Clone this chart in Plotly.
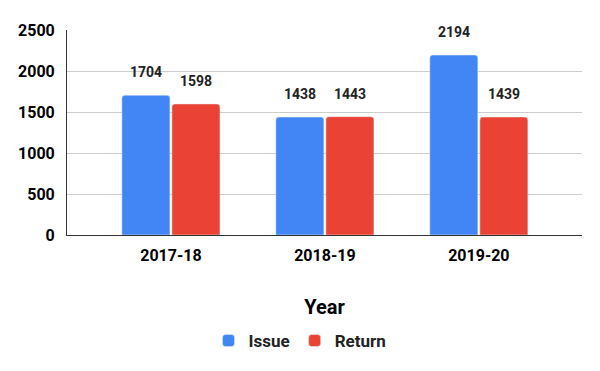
import plotly.graph_objects as go

years = ["2017-18", "2018-19", "2019-20"]
issue = [1704, 1438, 2194]
ret = [1598, 1443, 1439]
y_ticks = [0, 500, 1000, 1500, 2000, 2500]

fig = go.Figure()
fig.add_bar(name="Issue", x=years, y=issue, marker=dict(color="#4285F4", cornerradius=3), hoverinfo="skip")
fig.add_bar(name="Return", x=years, y=ret, marker=dict(color="#EA4335", cornerradius=3), hoverinfo="skip")

for vals, dx in ((issue, -25), (ret, 25)):
    for yr, v in zip(years, vals):
        fig.add_annotation(x=yr, y=v, text=str(v), showarrow=False, xshift=dx, yshift=13,
                           yanchor="bottom", font=dict(family="Roboto", size=14, color="#222", weight="bold"))

fig.update_layout(
    width=600, height=371,
    margin=dict(l=67, r=18, t=30, b=136, autoexpand=False),
    plot_bgcolor="white", paper_bgcolor="white",
    barmode="group", bargap=0.35, bargroupgap=0.04,
    font=dict(family="Roboto", color="#000"),
    showlegend=True,
    legend=dict(orientation="h", xref="container", yref="container", x=0.5, xanchor="center",
                y=1 - 341 / 371, yanchor="middle", font=dict(size=17, weight="bold", color="#222"),
                itemwidth=30, traceorder="normal"),
)
fig.update_xaxes(range=[-0.675, 2.67], showline=True, linecolor="#333", linewidth=1, automargin=False,
                 tickfont=dict(size=16, weight="bold", color="#000"), ticks="outside", ticklen=6,
                 tickcolor="rgba(0,0,0,0)",
                 title=dict(text="Year", font=dict(size=20, weight="bold", color="#000"), standoff=35))
fig.update_yaxes(range=[0, 2500], tickvals=y_ticks, showgrid=True, gridcolor="#cccccc", automargin=False,
                 showline=True, linecolor="#333", linewidth=1, zeroline=False,
                 tickfont=dict(size=16, weight="bold", color="#000"), ticks="", ticklabelstandoff=8)

fig.write_html("out.html", config={"displayModeBar": False},
               post_script="document.body.style.margin='0';")
